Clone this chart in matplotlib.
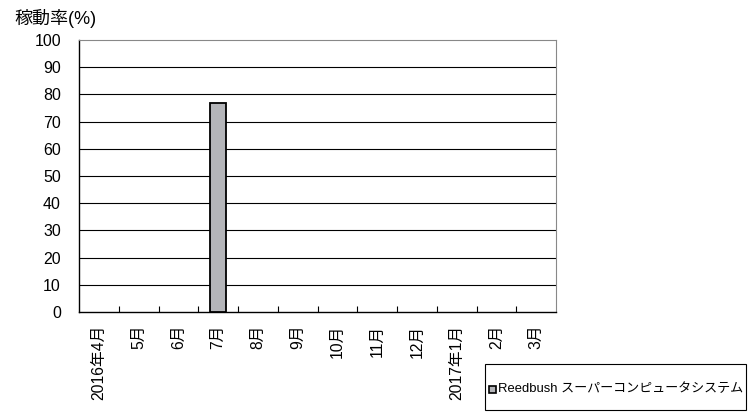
import matplotlib
matplotlib.use("Agg")
import matplotlib.pyplot as plt
import numpy as np

plt.rcParams['font.family'] = ['Liberation Sans', 'Noto Sans CJK JP', 'DejaVu Sans']

months = ["2016年4月", "5月", "6月", "7月", "8月", "9月", "10月", "11月", "12月", "2017年1月", "2月", "3月"]
utilization = [0, 0, 0, 76.8, 0, 0, 0, 0, 0, 0, 0, 0]
series_name = "Reedbush スーパーコンピュータシステム"
yticks = [0, 10, 20, 30, 40, 50, 60, 70, 80, 90, 100]

W, H = 748, 418
fig = plt.figure(figsize=(W / 100, H / 100), dpi=100)
ax = fig.add_axes([79 / W, 1 - 312 / H, (556 - 79) / W, (312 - 40) / H])

x = np.arange(len(months))
vals = np.array(utilization, dtype=float)
# zero-valued months have no visible bar
edge_w = np.where(vals > 0, 1.3, 0.0)
ax.bar(x, vals, width=0.4, color="#b4b5b9", edgecolor="black", linewidth=edge_w, zorder=3)

ax.set_xlim(-0.5, len(months) - 0.5)
ax.set_ylim(0, 100)
ax.set_yticks(yticks)
ax.set_yticklabels([str(v) for v in yticks], fontsize=11.5)
for v in yticks[1:-1]:
    ax.axhline(v, color="black", linewidth=0.8, zorder=1)

ax.set_xticks(x)
ax.set_xticklabels(months, rotation=90, fontsize=11.3, va="top")
ax.tick_params(axis="x", length=0, pad=9)
ax.set_xticks(np.arange(0.5, len(months) - 0.5, 1), minor=True)
ax.tick_params(axis="x", which="minor", direction="in", length=4, color="black", width=0.8)
ax.tick_params(axis="y", length=0, pad=13)

ax.spines["left"].set_color("black")
ax.spines["bottom"].set_color("black")
ax.spines["left"].set_linewidth(1.0)
ax.spines["bottom"].set_linewidth(1.0)
ax.spines["top"].set_color("#888888")
ax.spines["right"].set_color("#888888")

fig.text(14 / W, 1 - 18 / H, "稼動率(%)", fontsize=13, va="center", ha="left")

# legend box
lx0, ly0, lx1, ly1 = 485, 364, 746, 410
rect = plt.Rectangle((lx0 / W, 1 - ly1 / H), (lx1 - lx0) / W, (ly1 - ly0) / H,
                     transform=fig.transFigure, facecolor="white", edgecolor="black", linewidth=0.8)
fig.add_artist(rect)
sq = plt.Rectangle((489 / W, 1 - 393 / H), 7 / W, 7 / H, transform=fig.transFigure,
                   facecolor="#b4b5b9", edgecolor="black", linewidth=1.2)
fig.add_artist(sq)
fig.text(498 / W, 1 - 389 / H, series_name, fontsize=9.4, va="center", ha="left")

fig.savefig("out.png", dpi=100)
